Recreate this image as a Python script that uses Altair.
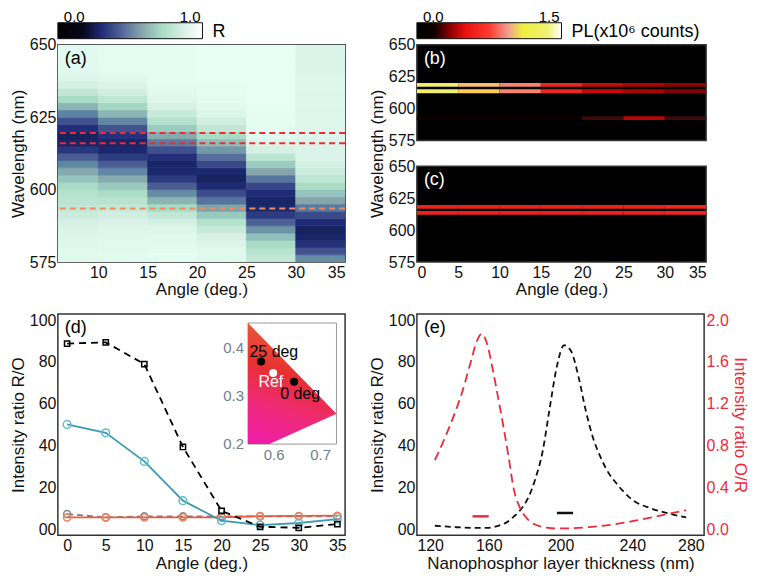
import altair as alt
import pandas as pd

FONT = "Liberation Sans"

# ---------------- (a) reflectance map ----------------
A_STARTS = [5, 10, 15, 20, 25, 30]
WL_ROWS = [576.25, 578.75, 581.25, 583.75, 586.25, 588.75, 591.25, 593.75, 596.25, 598.75,
           601.25, 603.75, 606.25, 608.75, 611.25, 613.75, 616.25, 618.75, 621.25, 623.75,
           626.25, 628.75, 631.25, 633.75, 636.25, 638.75, 641.25, 643.75, 646.25, 648.75]
R_COL1 = [0.92, 0.92, 0.91, 0.90, 0.88, 0.86, 0.83, 0.80, 0.78, 0.76, 0.72, 0.66, 0.59, 0.51, 0.42,
          0.33, 0.28, 0.27, 0.31, 0.39, 0.50, 0.62, 0.72, 0.80, 0.86, 0.90, 0.92, 0.93, 0.93, 0.93]
R_COL2 = [0.93, 0.93, 0.92, 0.91, 0.90, 0.88, 0.85, 0.81, 0.77, 0.73, 0.67, 0.59, 0.51, 0.42, 0.34,
          0.29, 0.28, 0.32, 0.40, 0.51, 0.62, 0.71, 0.79, 0.85, 0.89, 0.92, 0.94, 0.94, 0.94, 0.94]
R_COL3 = [0.94, 0.94, 0.93, 0.92, 0.90, 0.86, 0.80, 0.72, 0.62, 0.52, 0.42, 0.34, 0.29, 0.28, 0.31,
          0.39, 0.49, 0.59, 0.68, 0.76, 0.82, 0.87, 0.91, 0.93, 0.94, 0.95, 0.95, 0.95, 0.95, 0.95]
R_COL4 = [0.92, 0.92, 0.90, 0.87, 0.82, 0.76, 0.67, 0.57, 0.47, 0.38, 0.30, 0.27, 0.29, 0.37, 0.46,
          0.55, 0.64, 0.72, 0.80, 0.85, 0.90, 0.93, 0.94, 0.95, 0.95, 0.96, 0.96, 0.96, 0.96, 0.96]
R_COL5 = [0.80, 0.77, 0.72, 0.64, 0.54, 0.43, 0.34, 0.29, 0.28, 0.30, 0.37, 0.47, 0.58, 0.68, 0.78,
          0.86, 0.90, 0.93, 0.94, 0.95, 0.95, 0.96, 0.96, 0.96, 0.96, 0.96, 0.96, 0.96, 0.96, 0.96]
R_COL6 = [0.52, 0.40, 0.32, 0.28, 0.27, 0.30, 0.38, 0.48, 0.58, 0.66, 0.73, 0.79, 0.83, 0.86, 0.88,
          0.89, 0.90, 0.90, 0.90, 0.90, 0.90, 0.90, 0.90, 0.90, 0.90, 0.90, 0.89, 0.89, 0.89, 0.89]
R_COLS = [R_COL1, R_COL2, R_COL3, R_COL4, R_COL5, R_COL6]
A_DASH_WL = [619.5, 616.0, 593.5]
A_DASH_COL = ["#ee2a32", "#ee2a32", "#f28a60"]

R_DOMAIN = [0, 0.18, 0.3, 0.45, 0.58, 0.72, 0.87, 1.0]
R_RANGE = ["#000000", "#06081c", "#1e2a76", "#56699a", "#86a6ac", "#a8dcc4", "#d8f1e6", "#ffffff"]

# ---------------- (b),(c) PL maps ----------------
B_STARTS = [0, 5, 10, 15, 20, 25, 30]
B_WL = [618.5, 613.5, 592.5]
B_UPPER = [1.30, 1.02, 0.88, 0.60, 0.45, 0.40, 0.35]
B_LOWER = [1.35, 1.05, 0.88, 0.60, 0.45, 0.40, 0.33]
B_WEAK = [0.0, 0.0, 0.0, 0.0, 0.24, 0.42, 0.24]
C_WL = [618.3, 613.5]
C_UPPER = [0.58, 0.58, 0.58, 0.58, 0.58, 0.58, 0.60]
C_LOWER = [0.58, 0.58, 0.58, 0.58, 0.58, 0.58, 0.60]

PL_DOMAIN = [0, 0.18, 0.35, 0.5, 0.75, 0.95, 1.1, 1.35, 1.5]
PL_RANGE = ["#000000", "#100000", "#900000", "#e81010", "#ff3a30", "#f0a090", "#eef040", "#f0f070", "#ffffff"]

# ---------------- (d) ----------------
D_ANGLES = [0, 5, 10, 15, 20, 25, 30, 35]
D_BLACK = [88.8, 89.4, 79.0, 39.3, 8.7, 1.1, 0.6, 2.4]
D_TEAL = [50.1, 46.1, 32.4, 13.6, 4.0, 1.9, 2.9, 4.8]
D_GRAY = [7.2, 5.6, 6.1, 6.1, 6.1, 6.1, 6.1, 6.1]
D_ORANGE = [5.6, 5.6, 5.6, 5.6, 5.6, 6.2, 6.3, 6.4]

INSET_X = [0.544, 0.734]
INSET_Y = [0.2, 0.452]
GAMUT_X = [0.544, 0.59, 0.734]
GAMUT_TOP = [0.452, 0.406, 0.263]
GAMUT_BOT = [0.2, 0.2, 0.263]
CIE_X = [0.572, 0.598, 0.643]
CIE_Y = [0.372, 0.348, 0.330]
CIE_COL = ["#000000", "#ffffff", "#000000"]
CIE_LAB = ["25 deg", "Ref", "0 deg"]
CIE_LAB_X = [0.5995, 0.593, 0.656]
CIE_LAB_Y = [0.391, 0.329, 0.304]
CIE_LAB_COL = ["#000000", "#ffffff", "#000000"]
INSET_YTICKS = [0.2, 0.3, 0.4]
INSET_XTICKS = [0.6, 0.7]

# ---------------- (e) ----------------
E_THK_RO = [130, 140, 150, 160, 166, 170, 174, 178, 182, 186, 190, 194, 198, 202, 206, 210, 214,
            218, 222, 226, 232, 240, 250, 260, 270]
E_RO = [1.6, 1.0, 0.6, 0.6, 1.8, 3.2, 6.0, 9.5, 15.0, 24.0, 37.0, 58.0, 78.0, 88.0, 85.0, 73.0, 57.0,
        44.0, 35.0, 28.0, 21.0, 14.0, 10.0, 7.5, 5.6]
E_THK_OR = [130, 135, 140, 145, 150, 153, 156, 159, 162, 165, 168, 171, 174, 177, 180, 185, 190,
            195, 200, 210, 220, 230, 240, 250, 260, 270]
E_OR = [0.66, 0.85, 1.06, 1.30, 1.60, 1.78, 1.87, 1.78, 1.55, 1.28, 1.00, 0.70, 0.38, 0.22, 0.13,
        0.05, 0.02, 0.008, 0.006, 0.012, 0.025, 0.045, 0.075, 0.11, 0.145, 0.18]
E_MARK_BLACK = [198, 207, 7.7]
E_MARK_RED = [151, 160, 6.1]

RED = "#ee2a3a"

# ---------------- layout sizes ----------------
W = 288
HA = 218
HD = 222
B_TOP, B_BOT = 0, 96
C_TOP, C_BOT = 122, 218
CBW = 145
CB_Y0, CB_Y1 = -22, -6


def panel_label(txt, color="black", y=5):
    return alt.Chart(pd.DataFrame({"t": [txt]})).mark_text(
        align="left", baseline="top", fontSize=18, font=FONT, color=color
    ).encode(x=alt.value(7), y=alt.value(y), text="t:N")


def colorbar(domain, rng, title_txt):
    lo, hi = domain[0], domain[-1]
    stops = [{"offset": (d - lo) / (hi - lo), "color": c} for d, c in zip(domain, rng)]
    grad = {"gradient": "linear", "x1": 0, "x2": 1, "y1": 0, "y2": 0, "stops": stops}
    xs = alt.Scale(domain=[lo, hi], range=[0, CBW], nice=False, zero=False)
    bar = alt.Chart(pd.DataFrame({"lo": [lo], "hi": [hi]})).mark_rect(
        color=grad, stroke="#111111", strokeWidth=1
    ).encode(x=alt.X("lo:Q", scale=xs, axis=None), x2="hi:Q", y=alt.value(CB_Y0), y2=alt.value(CB_Y1))
    labs = alt.Chart(pd.DataFrame({"v": [lo, hi], "t": [f"{lo:.1f}", f"{hi:.1f}"], "al": ["l", "r"]}))
    lab_lo = labs.transform_filter("datum.al == 'l'").mark_text(
        align="left", baseline="alphabetic", fontSize=15, font=FONT, dx=6, dy=-1
    ).encode(x=alt.X("v:Q", scale=xs, axis=None), y=alt.value(CB_Y0), text="t:N")
    lab_hi = labs.transform_filter("datum.al == 'r'").mark_text(
        align="right", baseline="alphabetic", fontSize=15, font=FONT, dx=-2, dy=-1
    ).encode(x=alt.X("v:Q", scale=xs, axis=None), y=alt.value(CB_Y0), text="t:N")
    ttl = alt.Chart(pd.DataFrame({"v": [hi], "t": [title_txt]})).mark_text(
        align="left", baseline="middle", fontSize=18, font=FONT, dx=10
    ).encode(x=alt.X("v:Q", scale=xs, axis=None), y=alt.value((CB_Y0 + CB_Y1) / 2 + 1), text="t:N")
    return alt.layer(bar, lab_lo, lab_hi, ttl)


# ---- panel (a) ----
rows = []
for s, col in zip(A_STARTS, R_COLS):
    for wl, v in zip(WL_ROWS, col):
        rows.append({"a0": s, "a1": s + 5, "w0": wl - 1.25, "w1": wl + 1.25, "R": v})
heat_a_df = pd.DataFrame(rows)
xa = alt.Scale(domain=[5.9, 35], nice=False, zero=False)
ya = alt.Scale(domain=[575, 650], nice=False, zero=False)
heat_a = alt.Chart(heat_a_df).mark_rect(clip=True, strokeWidth=0.7).encode(
    x=alt.X("a0:Q", scale=xa, axis=alt.Axis(values=[10, 15, 20, 25, 30, 35], title="Angle (deg.)")),
    x2="a1:Q",
    y=alt.Y("w0:Q", scale=ya, axis=alt.Axis(values=[575, 600, 625, 650], title="Wavelength (nm)")),
    y2="w1:Q",
    color=alt.Color("R:Q", scale=alt.Scale(domain=R_DOMAIN, range=R_RANGE), legend=None),
    stroke=alt.Stroke("R:Q", scale=alt.Scale(domain=R_DOMAIN, range=R_RANGE), legend=None),
)
dash_a = alt.Chart(pd.DataFrame({"wl": A_DASH_WL, "c": A_DASH_COL})).mark_rule(
    strokeDash=[6, 4], strokeWidth=2
).encode(y=alt.Y("wl:Q", scale=ya), color=alt.Color("c:N", scale=None))
main_a = alt.layer(heat_a, dash_a, panel_label("(a)"))
panel_a = alt.layer(main_a, colorbar(R_DOMAIN, R_RANGE, "R")).resolve_scale(
    x="independent"
).properties(width=W, height=HA)

# ---- panels (b),(c) ----
xb = alt.Scale(domain=[0, 35], nice=False, zero=False)


def pl_group(wls, series, label, ytop, ybot, show_x, show_title):
    ys = alt.Scale(domain=[575, 650], range=[ybot, ytop], nice=False, zero=False)
    rows = []
    for wl, vals in zip(wls, series):
        for s, v in zip(B_STARTS, vals):
            rows.append({"a0": s, "a1": s + 5, "w0": wl - 1.5, "w1": wl + 1.5, "PL": v})
    df = pd.DataFrame(rows)
    xaxis = alt.Axis(values=[0, 5, 10, 15, 20, 25, 30, 35], title="Angle (deg.)", orient="bottom") if show_x else None
    yaxis = alt.Axis(values=[575, 600, 625, 650], orient="left",
                     title="Wavelength (nm)" if show_title else None,
                     titleY=HA / 2 if show_title else (ytop + ybot) / 2)
    bg = alt.Chart(pd.DataFrame({"a0": [0], "a1": [35], "w0": [575], "w1": [650]})).mark_rect(
        fill="#000000", stroke="#333333", strokeWidth=1.5
    ).encode(x=alt.X("a0:Q", scale=xb, axis=xaxis), x2="a1:Q",
             y=alt.Y("w0:Q", scale=ys, axis=yaxis), y2="w1:Q")
    lines = alt.Chart(df).mark_rect().encode(
        x=alt.X("a0:Q", scale=xb), x2="a1:Q",
        y=alt.Y("w0:Q", scale=ys), y2="w1:Q",
        color=alt.Color("PL:Q", scale=alt.Scale(domain=PL_DOMAIN, range=PL_RANGE), legend=None),
    )
    return alt.layer(bg, lines, panel_label(label, "white", ytop + 5))


grp_b = pl_group(B_WL, [B_UPPER, B_LOWER, B_WEAK], "(b)", B_TOP, B_BOT, False, False)
grp_c = pl_group(C_WL, [C_UPPER, C_LOWER], "(c)", C_TOP, C_BOT, True, True)
panel_bc = alt.layer(grp_b, grp_c, colorbar(PL_DOMAIN, PL_RANGE, "PL(x10⁶ counts)")).resolve_scale(
    x="independent", y="independent"
).properties(width=W + 2, height=HA, view=alt.ViewBackground(stroke="transparent"))

# ---- panel (d) ----
xd = alt.Scale(domain=[-1.2, 36], nice=False, zero=False)
yd = alt.Scale(domain=[-3, 103], nice=False, zero=False)
ro_axis = alt.Axis(values=[0, 20, 40, 60, 80, 100], labelExpr="datum.value == 0 ? '00' : datum.label",
                   title="Intensity ratio R/O")


def series(vals, lcolor, dash, shape, mcolor, msize):
    df = pd.DataFrame({"angle": D_ANGLES, "v": vals})
    base = alt.Chart(df).encode(
        x=alt.X("angle:Q", scale=xd, axis=alt.Axis(values=D_ANGLES, title="Angle (deg.)")),
        y=alt.Y("v:Q", scale=yd, axis=ro_axis),
    )
    ln = base.mark_line(color=lcolor, strokeWidth=1.8, strokeDash=dash) if dash else \
        base.mark_line(color=lcolor, strokeWidth=1.8)
    pt = base.mark_point(shape=shape, filled=False, color=mcolor, size=msize, strokeWidth=1.5, opacity=1)
    return [ln, pt]


main_d = alt.layer(
    *series(D_GRAY, "#6f8090", [6, 4], "circle", "#7b8a98", 50),
    *series(D_ORANGE, "#ee5a3c", None, "circle", "#f0825a", 50),
    *series(D_TEAL, "#3d9ab2", None, "circle", "#62bccb", 60),
    *series(D_BLACK, "#000000", [7, 5], "square", "#000000", 28),
    panel_label("(d)"),
)

ix = alt.Scale(domain=INSET_X, range=[W * 0.662, W * 0.970], nice=False, zero=False)
iy = alt.Scale(domain=INSET_Y, range=[HD * 0.588, HD * 0.041], nice=False, zero=False)
frame = alt.Chart(pd.DataFrame({"x0": [INSET_X[0]], "x1": [INSET_X[1]], "y0": [INSET_Y[0]], "y1": [INSET_Y[1]]})).mark_rect(
    fill="white", stroke="#9a9a9a", strokeWidth=1
).encode(x=alt.X("x0:Q", scale=ix, axis=None), x2="x1:Q", y=alt.Y("y0:Q", scale=iy, axis=None), y2="y1:Q")
gamut_grad = {"gradient": "linear", "x1": 0.2, "y1": 1, "x2": 0.45, "y2": 0,
              "stops": [{"offset": 0, "color": "#f01ea6"}, {"offset": 0.3, "color": "#ee2a78"},
                        {"offset": 0.6, "color": "#e83030"}, {"offset": 1, "color": "#e8643e"}]}
gamut = alt.Chart(pd.DataFrame({"x": GAMUT_X, "top": GAMUT_TOP, "bot": GAMUT_BOT})).mark_area(
    color=gamut_grad, opacity=1
).encode(x=alt.X("x:Q", scale=ix, axis=None), y=alt.Y("top:Q", scale=iy, axis=None), y2="bot:Q")
pts = alt.Chart(pd.DataFrame({"x": CIE_X, "y": CIE_Y, "c": CIE_COL})).mark_point(
    filled=True, size=65, opacity=1
).encode(x=alt.X("x:Q", scale=ix, axis=None), y=alt.Y("y:Q", scale=iy, axis=None),
         color=alt.Color("c:N", scale=None))
labs = alt.Chart(pd.DataFrame({"x": CIE_LAB_X, "y": CIE_LAB_Y, "t": CIE_LAB, "c": CIE_LAB_COL})).mark_text(
    fontSize=16, font=FONT
).encode(x=alt.X("x:Q", scale=ix, axis=None), y=alt.Y("y:Q", scale=iy, axis=None), text="t:N",
         color=alt.Color("c:N", scale=None))
ytl = alt.Chart(pd.DataFrame({"x": [INSET_X[0]] * len(INSET_YTICKS), "y": INSET_YTICKS,
                              "t": [f"{v:.1f}" for v in INSET_YTICKS]})).mark_text(
    fontSize=15, font=FONT, align="right", dx=-4, color="#6e7f90"
).encode(x=alt.X("x:Q", scale=ix, axis=None), y=alt.Y("y:Q", scale=iy, axis=None), text="t:N")
xtl = alt.Chart(pd.DataFrame({"x": INSET_XTICKS, "y": [INSET_Y[0]] * len(INSET_XTICKS),
                              "t": [f"{v:.1f}" for v in INSET_XTICKS]})).mark_text(
    fontSize=15, font=FONT, baseline="top", dy=4, color="#6e7f90"
).encode(x=alt.X("x:Q", scale=ix, axis=None), y=alt.Y("y:Q", scale=iy, axis=None), text="t:N")
inset = alt.layer(frame, gamut, pts, labs, ytl, xtl)

panel_d = alt.layer(main_d, inset).resolve_scale(x="independent", y="independent").properties(width=W, height=HD)

# ---- panel (e) ----
xe = alt.Scale(domain=[120, 280], nice=False, zero=False)
ye = alt.Scale(domain=[-3, 103], nice=False, zero=False)
ye2 = alt.Scale(domain=[-0.06, 2.06], nice=False, zero=False)
x_e_axis = alt.Axis(values=[120, 160, 200, 240, 280], title="Nanophosphor layer thickness (nm)")
ro_line = alt.Chart(pd.DataFrame({"t": E_THK_RO, "v": E_RO})).mark_line(
    color="#111111", strokeDash=[6, 4], strokeWidth=1.8, interpolate="monotone"
).encode(x=alt.X("t:Q", scale=xe, axis=x_e_axis), y=alt.Y("v:Q", scale=ye, axis=ro_axis))
marks_e = alt.Chart(pd.DataFrame({"x0": [E_MARK_BLACK[0], E_MARK_RED[0]], "x1": [E_MARK_BLACK[1], E_MARK_RED[1]],
                                  "y": [E_MARK_BLACK[2], E_MARK_RED[2]], "c": ["#111111", RED]})).mark_rule(
    strokeWidth=2.5
).encode(x=alt.X("x0:Q", scale=xe), x2="x1:Q", y=alt.Y("y:Q", scale=ye), color=alt.Color("c:N", scale=None))
left_e = alt.layer(ro_line, marks_e, panel_label("(e)"))
or_line = alt.Chart(pd.DataFrame({"t": E_THK_OR, "v": E_OR})).mark_line(
    color=RED, strokeDash=[9, 5], strokeWidth=1.8, interpolate="monotone"
).encode(x=alt.X("t:Q", scale=xe, axis=x_e_axis),
         y=alt.Y("v:Q", scale=ye2, axis=alt.Axis(orient="right", values=[0, 0.4, 0.8, 1.2, 1.6, 2.0], format=".1f",
                                                 title="Intensity ratio O/R", labelColor=RED, titleColor=RED)))
panel_e = alt.layer(left_e, or_line).resolve_scale(y="independent").properties(width=W, height=HD)

# ---- assemble ----
chart = alt.concat(panel_a, panel_bc, panel_d, panel_e, columns=2, bounds="flush",
                   spacing={"row": 52, "column": 72}).resolve_scale(
    color="independent", stroke="independent"
).properties(padding=0).configure_view(
    stroke="#333333", strokeWidth=1.5
).configure_axis(
    labelFont=FONT, titleFont=FONT, labelFontSize=16, titleFontSize=17, titleFontWeight="normal",
    labelColor="#111111", titleColor="#111111", grid=False, domain=False, ticks=False,
    labelPadding=2, titlePadding=2
).configure_text(font=FONT)

chart.save("out.html", embed_options={"renderer": "svg", "actions": False})
